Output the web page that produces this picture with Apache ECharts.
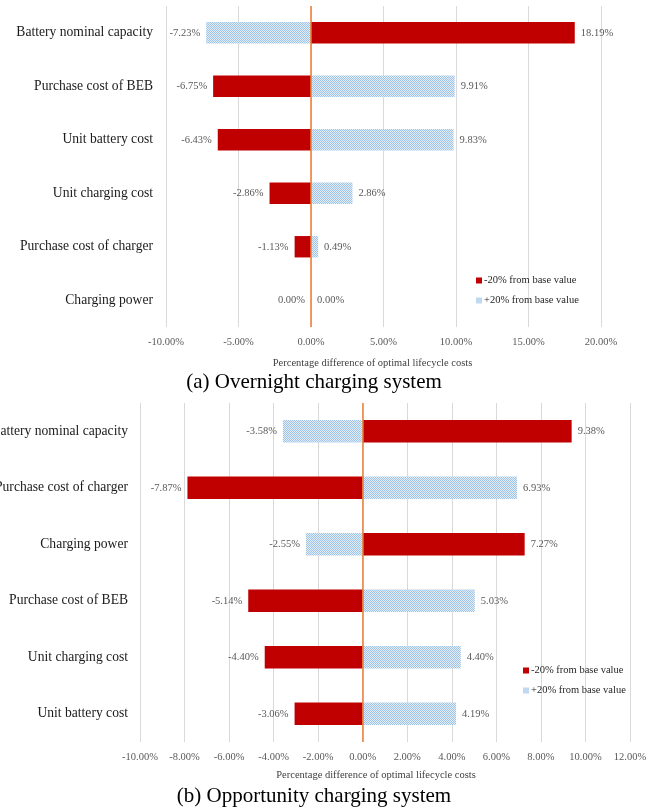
<!DOCTYPE html>
<html>
<head>
<meta charset="utf-8">
<script src="https://cdn.jsdelivr.net/npm/echarts@6/dist/echarts.min.js"></script>
<style>
html,body{margin:0;padding:0;background:#fff;}
#chart{width:655px;height:808px;}
</style>
</head>
<body>
<div id="chart"></div>
<script>
// ---- Data ----
const categoriesA = ['Battery nominal capacity', 'Purchase cost of BEB', 'Unit battery cost', 'Unit charging cost', 'Purchase cost of charger', 'Charging power'];
const minus20A = [18.19, -6.75, -6.43, -2.86, -1.13, 0.00];
const plus20A = [-7.23, 9.91, 9.83, 2.86, 0.49, 0.00];

const categoriesB = ['Battery nominal capacity', 'Purchase cost of charger', 'Charging power', 'Purchase cost of BEB', 'Unit charging cost', 'Unit battery cost'];
const minus20B = [9.38, -7.87, 7.27, -5.14, -4.40, -3.06];
const plus20B = [-3.58, 6.93, -2.55, 5.03, 4.40, 4.19];

const seriesNames = ['-20% from base value', '+20% from base value'];
const titleA = '(a) Overnight charging system';
const titleB = '(b) Opportunity charging system';
const axisName = 'Percentage difference of optimal lifecycle costs';

// ---- Styling ----
const FONT = "'Liberation Serif', 'Times New Roman', serif";
const RED = '#C00000';

function makePattern() {
  const c = document.createElement('canvas');
  c.width = 2; c.height = 2;
  const ctx = c.getContext('2d');
  ctx.fillStyle = '#E2EDF8'; ctx.fillRect(0, 0, 2, 2);
  ctx.fillStyle = '#9FC4E8';
  ctx.fillRect(0, 0, 1, 1); ctx.fillRect(1, 1, 1, 1);
  return { image: c, repeat: 'repeat' };
}
const BLUE = makePattern();

const pct = v => v.toFixed(2) + '%';

function items(vals, zeroLeft) {
  return vals.map(v => ({
    value: v,
    label: { position: (v < 0 || (v === 0 && zeroLeft)) ? 'left' : 'right' }
  }));
}

const labelStyle = { show: true, fontFamily: FONT, fontSize: 10.5, color: '#595959', distance: 6, formatter: p => pct(p.value) };

function xAxisCfg(idx, min, max, interval, nameGap, shift) {
  return {
    type: 'value', gridIndex: idx, min: min, max: max, interval: interval,
    axisLine: { show: false }, axisTick: { show: false },
    splitLine: { show: true, lineStyle: { color: '#d9d9d9', width: 1 } },
    axisLabel: { fontFamily: FONT, fontSize: 10.5, color: '#595959', margin: 10, formatter: v => pct(v) },
    name: axisName, nameLocation: 'middle', nameGap: nameGap,
    nameTextStyle: { fontFamily: FONT, fontSize: 10.5, color: '#404040', padding: [0, shift, 0, 0] }
  };
}
function yAxisCfg(idx, cats, margin) {
  return {
    type: 'category', gridIndex: idx, data: cats, inverse: true,
    axisLine: { show: false }, axisTick: { show: false }, splitLine: { show: false },
    axisLabel: { fontFamily: FONT, fontSize: 13.6, color: '#1a1a1a', margin: margin }
  };
}
function barSeries(name, idx, vals, color, zeroLeft, withLine) {
  const s = {
    name: name, type: 'bar', xAxisIndex: idx, yAxisIndex: idx,
    data: items(vals, zeroLeft), barWidth: '40%', barGap: '-100%',
    itemStyle: { color: color }, label: labelStyle, silent: true
  };
  if (withLine) {
    s.markLine = {
      silent: true, symbol: 'none', animation: false,
      label: { show: false },
      lineStyle: { color: '#ED7D31', width: 1.5, type: 'solid' },
      data: [{ xAxis: 0 }]
    };
  }
  return s;
}
function legendCfg(left, top) {
  return {
    data: seriesNames, orient: 'vertical', left: left, top: top,
    itemWidth: 6, itemHeight: 6, itemGap: 9, icon: 'rect',
    textStyle: { fontFamily: FONT, fontSize: 10.5, color: '#262626', padding: [0, 0, 0, -3] },
    selectedMode: false
  };
}

const chart = echarts.init(document.getElementById('chart'), null, { renderer: 'canvas' });
chart.setOption({
  animation: false,
  backgroundColor: '#fff',
  grid: [
    { left: 166, right: 54, top: 6, height: 321, outerBoundsMode: 'none', containLabel: false },
    { left: 140, right: 25, top: 403, height: 339, outerBoundsMode: 'none', containLabel: false }
  ],
  xAxis: [xAxisCfg(0, -10, 20, 5, 31, 22), xAxisCfg(1, -10, 12, 2, 28, 18)],
  yAxis: [yAxisCfg(0, categoriesA, 13), yAxisCfg(1, categoriesB, 12)],
  legend: [legendCfg(471, 270), legendCfg(518, 660)],
  series: [
    barSeries(seriesNames[0], 0, minus20A, RED, true, true),
    barSeries(seriesNames[1], 0, plus20A, BLUE, false, false),
    barSeries(seriesNames[0], 1, minus20B, RED, true, true),
    barSeries(seriesNames[1], 1, plus20B, BLUE, false, false)
  ],
  graphic: [
    { type: 'text', x: 314, y: 382, style: { text: titleA, fontFamily: FONT, fontSize: 21, fill: '#000', align: 'center', verticalAlign: 'middle' } },
    { type: 'text', x: 314, y: 796, style: { text: titleB, fontFamily: FONT, fontSize: 21, fill: '#000', align: 'center', verticalAlign: 'middle' } }
  ]
});
</script>
</body>
</html>
